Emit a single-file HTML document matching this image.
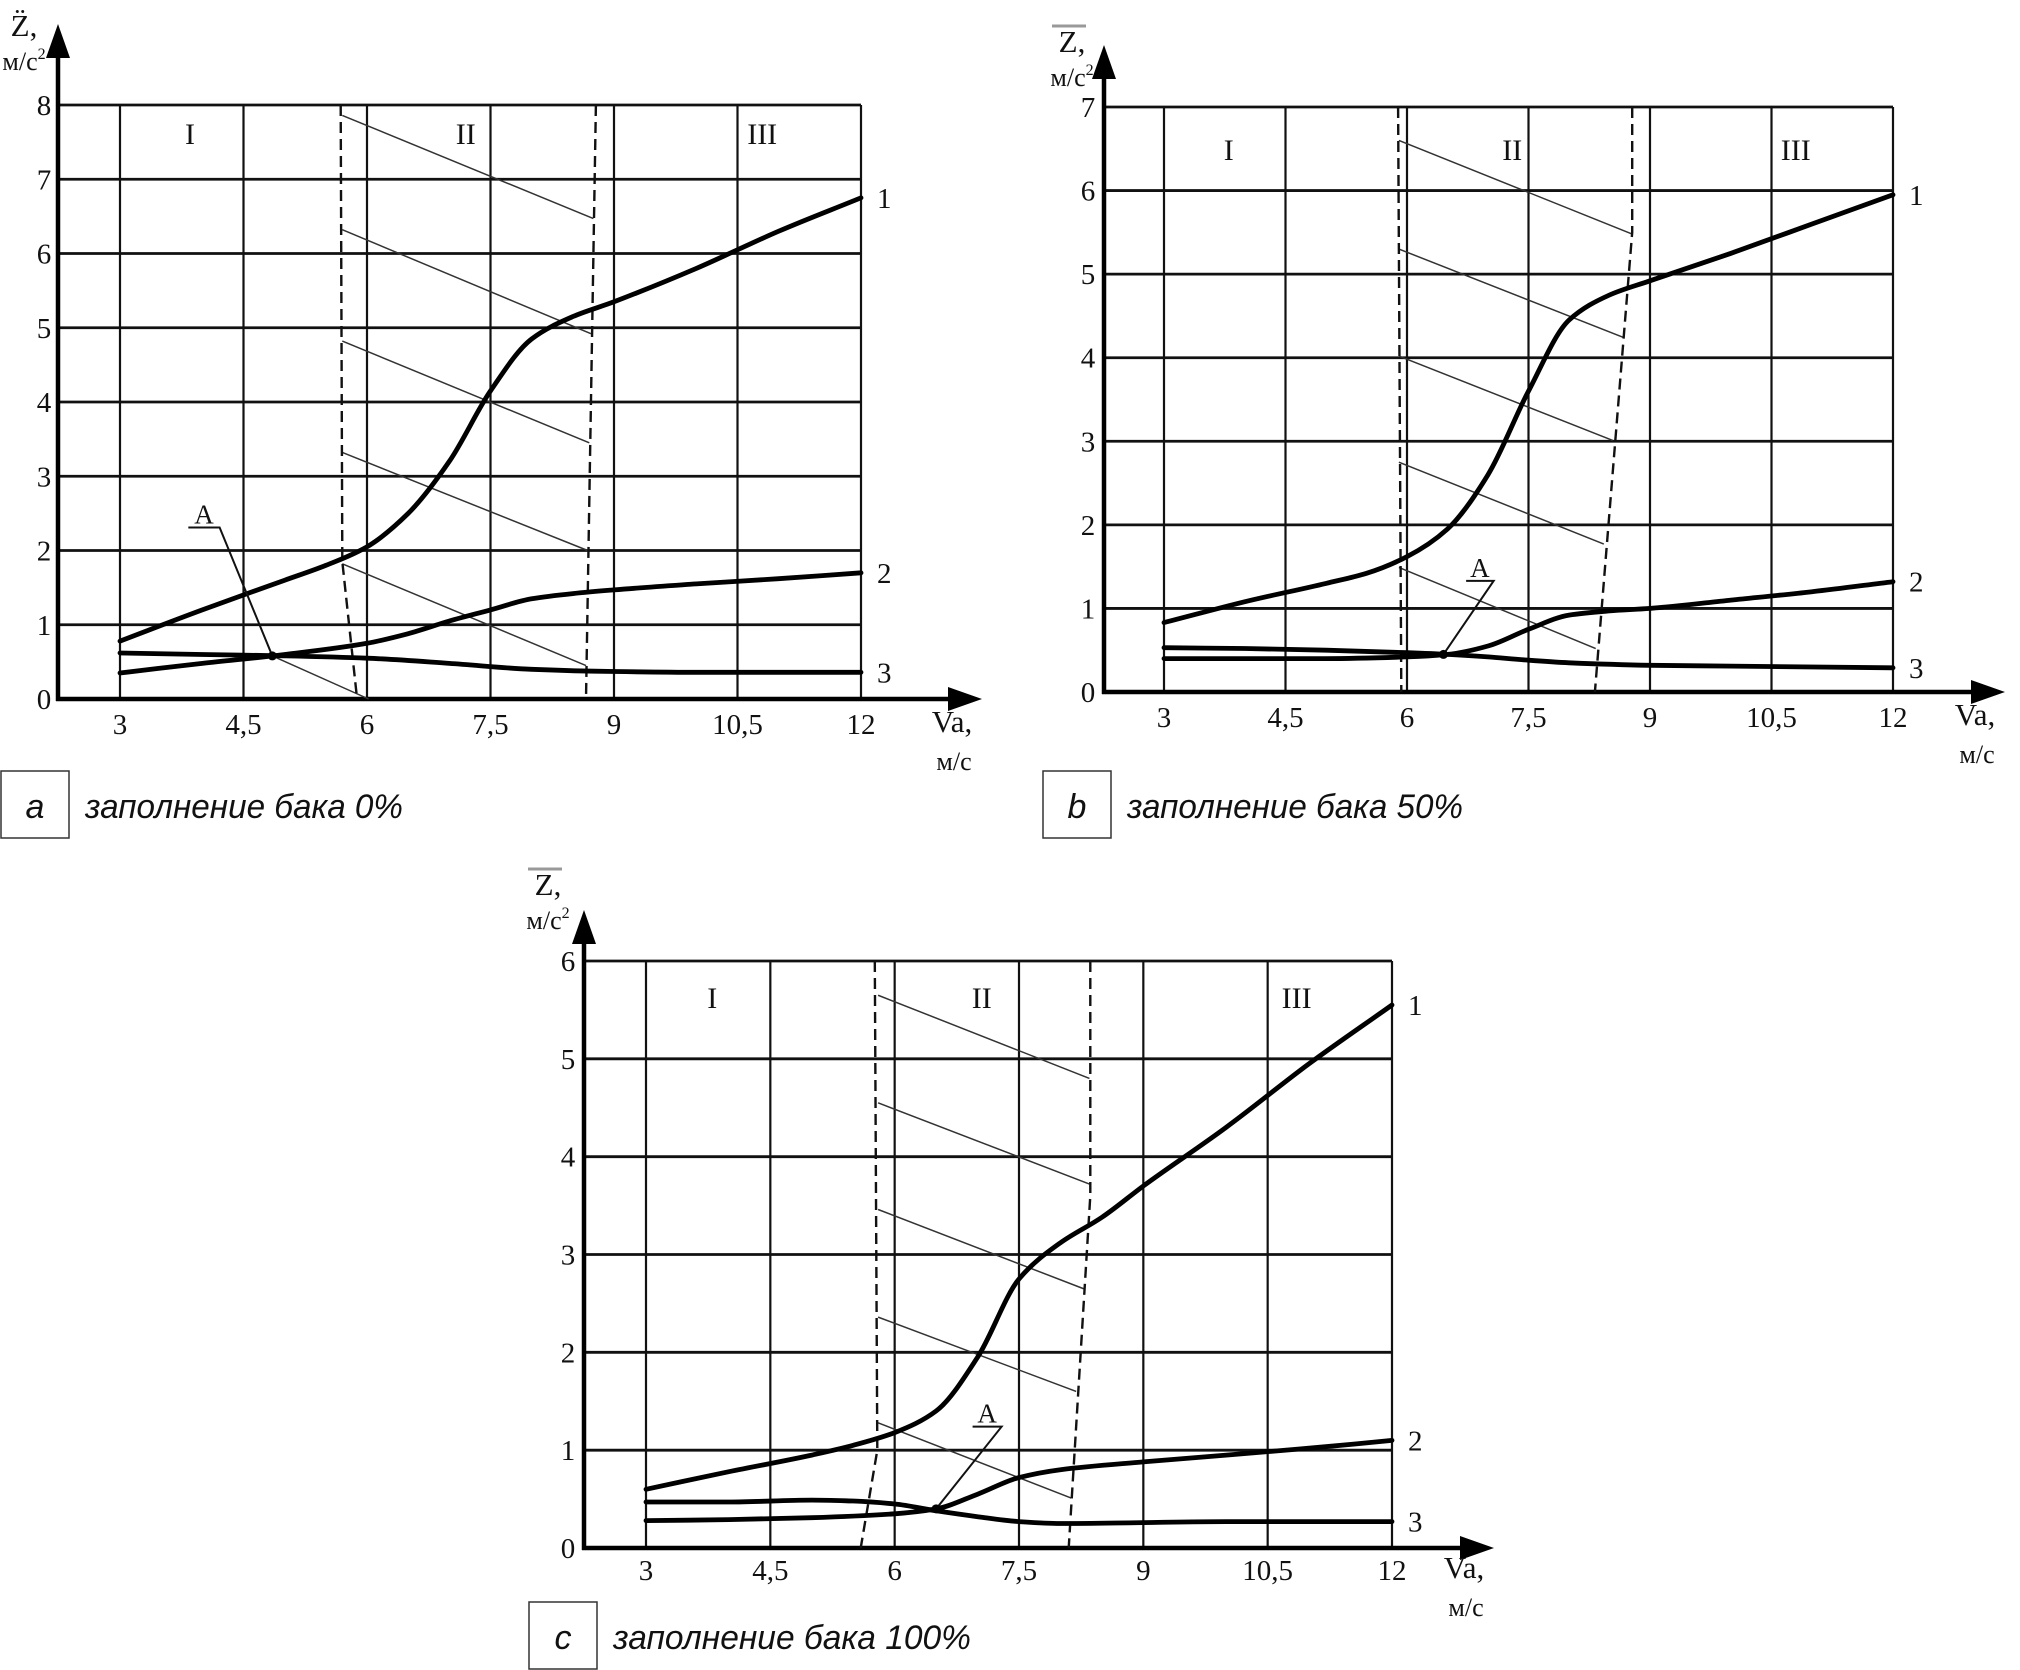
<!DOCTYPE html>
<html><head><meta charset="utf-8">
<style>
html,body{margin:0;padding:0;background:#fff;}
svg{display:block;}
.t{font-family:"Liberation Serif",serif;font-size:29px;fill:#111;}
.cap{font-family:"Liberation Sans",sans-serif;font-style:italic;font-size:34px;fill:#111;}
</style></head>
<body>
<svg id="fig" width="2020" height="1670" viewBox="0 0 2020 1670" xmlns="http://www.w3.org/2000/svg"></svg>
<script>
// ---------- data ----------
const xTicks = [3, 4.5, 6, 7.5, 9, 10.5, 12];
const xTickLabels = ["3", "4,5", "6", "7,5", "9", "10,5", "12"];

// chart a (0%)
const aX1 = [3,4,5,5.5,6,6.5,7,7.5,8,8.5,9,10,10.5,11,12];
const aY1 = [0.78,1.2,1.6,1.8,2.05,2.5,3.2,4.15,4.85,5.15,5.35,5.8,6.05,6.3,6.75];
const aX2 = [3,4,5,6,6.5,7,7.5,8,8.5,9,10,11,12];
const aY2 = [0.35,0.48,0.6,0.75,0.88,1.05,1.2,1.35,1.42,1.47,1.55,1.62,1.7];
const aX3 = [3,4,5,6,7,8,9,10,12];
const aY3 = [0.62,0.6,0.58,0.55,0.48,0.4,0.37,0.36,0.36];
const aHatchStartX = [5.7,5.7,5.7,5.7,4.85];
const aHatchStartY = [7.86,6.32,4.82,3.32,0.58];
const aHatchEndX = [8.75,8.72,8.7,8.68,6.02];
const aHatchEndY = [6.47,4.92,3.45,2.0,0.0];
const aExtraHatchX = [5.7,8.66]; const aExtraHatchY = [1.82,0.45];
const aDashL_X = [5.68,5.7,5.88]; const aDashL_Y = [8,1.85,0];
const aDashR_X = [8.78,8.66]; const aDashR_Y = [8,0];
const aPointA = [4.85,0.58]; const aLabelA = [3.83,4.21,2.31];

// chart b (50%)
const bX1 = [3,4,5,5.5,6,6.5,7,7.5,8,8.5,9,10,11,12];
const bY1 = [0.83,1.08,1.3,1.42,1.62,1.95,2.6,3.6,4.45,4.75,4.92,5.25,5.6,5.95];
const bX2 = [3,4,5,6,6.5,7,7.5,8,8.5,9,10,11,12];
const bY2 = [0.4,0.4,0.4,0.42,0.45,0.55,0.75,0.92,0.97,1.0,1.1,1.2,1.32];
const bX3 = [3,4,5,6,6.5,7,7.5,8,9,10,12];
const bY3 = [0.53,0.52,0.5,0.47,0.45,0.42,0.38,0.35,0.32,0.31,0.29];
const bHatchStartX = [5.9,5.9,5.9,5.9,5.9];
const bHatchStartY = [6.6,5.3,4.02,2.75,1.49];
const bHatchEndX = [8.78,8.68,8.54,8.43,8.33];
const bHatchEndY = [5.48,4.24,3.01,1.77,0.52];
const bDashL_X = [5.89,5.93]; const bDashL_Y = [7,0];
const bDashR_X = [8.78,8.78,8.32]; const bDashR_Y = [7,5.5,0];
const bPointA = [6.45,0.45]; const bLabelA = [6.73,7.07,1.33];

// chart c (100%)
const cX1 = [3,4,5,5.5,6,6.5,7,7.5,8,8.5,9,10,11,12];
const cY1 = [0.6,0.78,0.95,1.05,1.18,1.4,1.95,2.75,3.12,3.38,3.7,4.3,4.95,5.55];
const cX2 = [3,4,5,6,6.5,7,7.5,8,9,10,11,12];
const cY2 = [0.28,0.29,0.31,0.35,0.4,0.55,0.72,0.8,0.88,0.95,1.02,1.1];
const cX3 = [3,4,5,5.5,6,6.5,7,7.5,8,9,10,12];
const cY3 = [0.47,0.47,0.49,0.48,0.45,0.38,0.32,0.27,0.25,0.26,0.27,0.27];
const cHatchStartX = [5.8,5.8,5.8,5.8,5.8];
const cHatchStartY = [5.65,4.55,3.46,2.36,1.28];
const cHatchEndX = [8.35,8.35,8.28,8.19,8.13];
const cHatchEndY = [4.8,3.72,2.65,1.6,0.51];
const cDashL_X = [5.76,5.79,5.59]; const cDashL_Y = [6,1.0,0];
const cDashR_X = [8.36,8.36,8.1]; const cDashR_Y = [6,3.6,0];
const cPointA = [6.5,0.4]; const cLabelA = [6.94,7.29,1.24];

// ---------- rendering ----------
const NS = "http://www.w3.org/2000/svg";
const svg = document.getElementById('fig');
function mk(tag, attrs, parent, text){
  const e = document.createElementNS(NS, tag);
  for (const k in attrs) e.setAttribute(k, attrs[k]);
  if (text !== undefined) e.textContent = text;
  (parent || svg).appendChild(e);
  return e;
}
// monotone cubic (Fritsch-Carlson) in pixel space
function monotone(pts){
  const n = pts.length;
  const dx = [], m = [], t = new Array(n);
  for (let i = 0; i < n - 1; i++){ dx[i] = pts[i+1][0] - pts[i][0]; m[i] = (pts[i+1][1] - pts[i][1]) / dx[i]; }
  t[0] = m[0]; t[n-1] = m[n-2];
  for (let i = 1; i < n - 1; i++){
    if (m[i-1] * m[i] <= 0) t[i] = 0;
    else { const w1 = 2*dx[i] + dx[i-1], w2 = dx[i] + 2*dx[i-1]; t[i] = (w1 + w2) / (w1/m[i-1] + w2/m[i]); }
  }
  let d = "M" + pts[0][0].toFixed(1) + "," + pts[0][1].toFixed(1);
  for (let i = 0; i < n - 1; i++){
    const h = dx[i] / 3;
    d += " C" + (pts[i][0]+h).toFixed(1) + "," + (pts[i][1]+t[i]*h).toFixed(1) + " " +
         (pts[i+1][0]-h).toFixed(1) + "," + (pts[i+1][1]-t[i+1]*h).toFixed(1) + " " +
         pts[i+1][0].toFixed(1) + "," + pts[i+1][1].toFixed(1);
  }
  return d;
}

function chart(cfg){
  const g = mk('g', {});
  
  
  const sx = v => cfg.x3 + (v - 3) * (cfg.x12 - cfg.x3) / 9;
  const sy = v => cfg.y0 - v * (cfg.y0 - cfg.yTop) / cfg.yMax;
  const L = cfg.axisX;
  for (let v = 1; v <= cfg.yMax; v++){
    const l = mk('line', {x1:L, x2:cfg.x12, y1:sy(v), y2:sy(v), stroke:'#111', 'stroke-width':2.8}, g);
    
    
  }
  xTicks.forEach((t, i) => {
    const l = mk('line', {x1:sx(t), x2:sx(t), y1:sy(cfg.yMax), y2:cfg.y0, stroke:'#111', 'stroke-width':2.2}, g);
    
    
    const tl = mk('text', {x:sx(t), y:cfg.tickY, 'text-anchor':'middle', class:'t'}, g, xTickLabels[i]);
    
    
  });
  for (let v = 0; v <= cfg.yMax; v++){
    const tl = mk('text', {x:cfg.yLabX, y:sy(v) + 10, 'text-anchor':'middle', class:'t'}, g, String(v));
    
    
  }
  const ya = mk('line', {x1:L, x2:L, y1:cfg.y0 + 2, y2:cfg.arrowTop + 20, stroke:'#000', 'stroke-width':4.5}, g);
  
  
  const yh = mk('polygon', {points:(L-12)+','+(cfg.arrowTop+34)+' '+L+','+cfg.arrowTop+' '+(L+12)+','+(cfg.arrowTop+34), fill:'#000'}, g);
  
  
  const xa = mk('line', {x1:L - 2, x2:cfg.arrowRight - 20, y1:cfg.y0, y2:cfg.y0, stroke:'#000', 'stroke-width':4.5}, g);
  
  
  const xh = mk('polygon', {points:(cfg.arrowRight-34)+','+(cfg.y0-12)+' '+cfg.arrowRight+','+cfg.y0+' '+(cfg.arrowRight-34)+','+(cfg.y0+12), fill:'#000'}, g);
  
  
  const yt = mk('text', {x:cfg.yTitleX, y:cfg.yTitleY, 'text-anchor':'middle', class:'t', style:'font-size:31px'}, g, cfg.zChar + ',');
  
  
  if (cfg.bar){
    const b = mk('line', {x1:cfg.yTitleX - 20, x2:cfg.yTitleX + 14, y1:cfg.yTitleY - 26, y2:cfg.yTitleY - 26, stroke:'#999', 'stroke-width':3}, g);
    
    
  }
  const yu = mk('text', {x:cfg.yTitleX, y:cfg.yTitleY + 34, 'text-anchor':'middle', class:'t', style:'font-size:26px'}, g);
  
  
  yu.textContent = 'м/с';
  mk('tspan', {dy:-11, style:'font-size:16px'}, yu, '2');
  const xt = mk('text', {x:cfg.arrowRight - 30, y:cfg.tickY - 2, 'text-anchor':'middle', class:'t', style:'font-size:31px'}, g, 'Va,');
  
  
  const xu = mk('text', {x:cfg.arrowRight - 28, y:cfg.tickY + 36, 'text-anchor':'middle', class:'t', style:'font-size:26px'}, g, 'м/с');
  
  
  [['I', cfg.regX[0]], ['II', cfg.regX[1]], ['III', cfg.regX[2]]].forEach(r => {
    const t = mk('text', {x:sx(r[1]), y:cfg.regY, 'text-anchor':'middle', class:'t', style:'font-size:30px'}, g, r[0]);
    
    
  });
  cfg.hsx.forEach((v, i) => {
    const l = mk('line', {x1:sx(v), y1:sy(cfg.hsy[i]), x2:sx(cfg.hex[i]), y2:sy(cfg.hey[i]), stroke:'#333', 'stroke-width':1.5}, g);
    
    
  });
  [[cfg.dlx, cfg.dly], [cfg.drx, cfg.dry]].forEach((d, k) => {
    const pts = d[0].map((v, i) => sx(v).toFixed(1) + ',' + sy(d[1][i]).toFixed(1)).join(' ');
    const p = mk('polyline', {points:pts, fill:'none', stroke:'#111', 'stroke-width':2.4, 'stroke-dasharray':'11 6'}, g);
    
    
  });
  cfg.series.forEach((s, i) => {
    const pts = s[0].map((v, j) => [sx(v), sy(s[1][j])]);
    const p = mk('path', {d:monotone(pts), fill:'none', stroke:'#000', 'stroke-width':4.8, 'stroke-linecap':'round'}, g);
    
    
    const last = pts[pts.length - 1];
    const t = mk('text', {x:last[0] + 16, y:last[1] + 10, class:'t'}, g, String(i + 1));
    
    
  });
  const A = cfg.A, la = cfg.la;
  const ldr = mk('polyline', {points:sx(la[0])+','+sy(la[2])+' '+sx(la[1])+','+sy(la[2])+' '+sx(A[0])+','+sy(A[1]), fill:'none', stroke:'#111', 'stroke-width':2}, g);
  
  
  const dot = mk('circle', {cx:sx(A[0]), cy:sy(A[1]), r:4.5, fill:'#000'}, g);
  
  
  const at = mk('text', {x:(sx(la[0]) + sx(la[1])) / 2, y:sy(la[2]) - 4, 'text-anchor':'middle', class:'t', style:'font-size:27px'}, g, 'A');
  
  
  const bx = mk('rect', {x:cfg.cap[0], y:cfg.cap[1], width:68, height:67, fill:'#fff', stroke:'#333', 'stroke-width':1.5}, g);
  
  
  const bl = mk('text', {x:cfg.cap[0] + 34, y:cfg.cap[1] + 47, 'text-anchor':'middle', class:'cap'}, g, cfg.letter);
  
  
  const ct = mk('text', {x:cfg.cap[0] + 84, y:cfg.cap[1] + 47, class:'cap', textLength:cfg.capLen, lengthAdjust:'spacingAndGlyphs'}, g, cfg.capText);
  
  
}

chart({name:'chart-a', x3:120, x12:861, y0:699, yTop:105, yMax:8, axisX:58, arrowTop:24, arrowRight:982,
  tickY:734, yLabX:44, yTitleX:24, yTitleY:36, zChar:'Z\u0308', bar:false, regX:[3.85,7.2,10.8], regY:144,
  series:[[aX1,aY1],[aX2,aY2],[aX3,aY3]],
  hsx:aHatchStartX.concat([aExtraHatchX[0]]), hsy:aHatchStartY.concat([aExtraHatchY[0]]),
  hex:aHatchEndX.concat([aExtraHatchX[1]]), hey:aHatchEndY.concat([aExtraHatchY[1]]),
  dlx:aDashL_X, dly:aDashL_Y, drx:aDashR_X, dry:aDashR_Y, A:aPointA, la:aLabelA,
  cap:[1,771], letter:'a', capText:'заполнение бака 0%', capLen:318});

chart({name:'chart-b', x3:1164, x12:1893, y0:692, yTop:107, yMax:7, axisX:1104, arrowTop:45, arrowRight:2005,
  tickY:727, yLabX:1088, yTitleX:1072, yTitleY:52, zChar:'Z', bar:true, regX:[3.8,7.3,10.8], regY:160,
  series:[[bX1,bY1],[bX2,bY2],[bX3,bY3]],
  hsx:bHatchStartX, hsy:bHatchStartY, hex:bHatchEndX, hey:bHatchEndY,
  dlx:bDashL_X, dly:bDashL_Y, drx:bDashR_X, dry:bDashR_Y, A:bPointA, la:bLabelA,
  cap:[1043,771], letter:'b', capText:'заполнение бака 50%', capLen:336});

chart({name:'chart-c', x3:646, x12:1392, y0:1548, yTop:961, yMax:6, axisX:584, arrowTop:910, arrowRight:1494,
  tickY:1580, yLabX:568, yTitleX:548, yTitleY:895, zChar:'Z', bar:true, regX:[3.8,7.05,10.85], regY:1008,
  series:[[cX1,cY1],[cX2,cY2],[cX3,cY3]],
  hsx:cHatchStartX, hsy:cHatchStartY, hex:cHatchEndX, hey:cHatchEndY,
  dlx:cDashL_X, dly:cDashL_Y, drx:cDashR_X, dry:cDashR_Y, A:cPointA, la:cLabelA,
  cap:[529,1602], letter:'c', capText:'заполнение бака 100%', capLen:358});
</script>
</body></html>
